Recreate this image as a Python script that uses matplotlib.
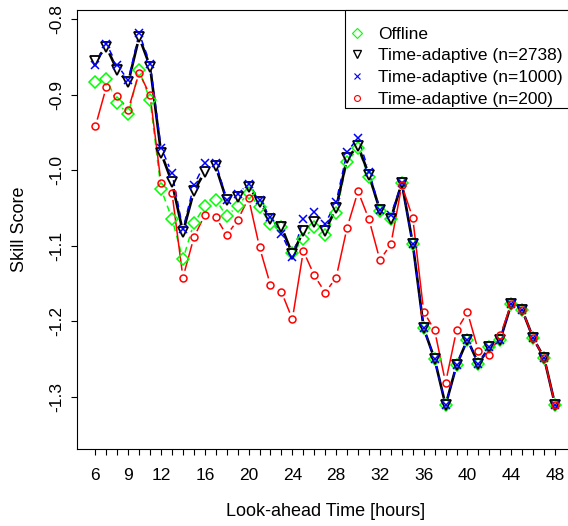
import numpy as np
import matplotlib
matplotlib.use("Agg")
import matplotlib.pyplot as plt
from matplotlib.lines import Line2D
from matplotlib.collections import LineCollection
from matplotlib.patches import Rectangle

plt.rcParams['font.family'] = ['Liberation Sans', 'DejaVu Sans']

# Look-ahead times (hours) and skill scores per forecasting setup
hours = list(range(6, 49))
xtick_labels = [6, 9, 12, 16, 20, 24, 28, 32, 36, 40, 44, 48]
yticks = [-0.8, -0.9, -1.0, -1.1, -1.2, -1.3]
ytick_labels = ["-0.8", "-0.9", "-1.0", "-1.1", "-1.2", "-1.3"]

offline = [-0.884, -0.879, -0.911, -0.926, -0.868, -0.907, -1.025, -1.064, -1.118,
           -1.070, -1.048, -1.039, -1.061, -1.047, -1.030, -1.049, -1.071, -1.075,
           -1.110, -1.091, -1.075, -1.086, -1.056, -0.989, -0.971, -1.009, -1.054,
           -1.064, -1.017, -1.097, -1.209, -1.250, -1.311, -1.258, -1.224, -1.256,
           -1.234, -1.224, -1.177, -1.185, -1.222, -1.248, -1.310]
adaptive_2738 = [-0.855, -0.837, -0.868, -0.884, -0.824, -0.863, -0.977, -1.016, -1.082,
                 -1.028, -1.002, -0.995, -1.040, -1.035, -1.022, -1.042, -1.064, -1.075,
                 -1.111, -1.081, -1.068, -1.080, -1.050, -0.984, -0.968, -1.006, -1.053,
                 -1.064, -1.017, -1.097, -1.209, -1.250, -1.311, -1.258, -1.224, -1.256,
                 -1.234, -1.224, -1.177, -1.185, -1.222, -1.248, -1.310]
adaptive_1000 = [-0.861, -0.833, -0.861, -0.881, -0.819, -0.859, -0.970, -1.004, -1.078,
                 -1.020, -0.991, -0.990, -1.039, -1.031, -1.018, -1.039, -1.062, -1.084,
                 -1.115, -1.064, -1.055, -1.071, -1.042, -0.976, -0.957, -1.002, -1.052,
                 -1.059, -1.017, -1.097, -1.209, -1.250, -1.311, -1.258, -1.224, -1.256,
                 -1.234, -1.224, -1.177, -1.185, -1.222, -1.248, -1.310]
adaptive_200 = [-0.942, -0.890, -0.902, -0.920, -0.871, -0.901, -1.017, -1.030, -1.142,
                -1.089, -1.059, -1.062, -1.086, -1.066, -1.037, -1.102, -1.152, -1.161,
                -1.197, -1.107, -1.139, -1.162, -1.142, -1.076, -1.028, -1.065, -1.119,
                -1.098, -1.020, -1.063, -1.187, -1.212, -1.281, -1.212, -1.188, -1.239,
                -1.244, -1.218, -1.177, -1.185, -1.222, -1.248, -1.310]

labels = ["Offline", "Time-adaptive (n=2738)", "Time-adaptive (n=1000)",
          "Time-adaptive (n=200)"]

W, H, DPI = 568, 526, 100
FS = 12.5
fig = plt.figure(figsize=(W / DPI, H / DPI), dpi=DPI)
fig.patch.set_facecolor("white")

# plot region: left 77px, top 10px, bottom 449px; right edge runs past the canvas
left, right, top, bottom = 77, 573.4, 10, 449
ax = fig.add_axes([left / W, (H - bottom) / H, (right - left) / W, (bottom - top) / H])
ax.set_xlim(4.32, 49.68)
ax.set_ylim(-1.3688, -0.7881)

for sp in ax.spines.values():
    sp.set_linewidth(0.8)
    sp.set_color("black")


def draw_segments(x, y, color, lw, ls, gap_px):
    """Connect points with segments that stop short of each marker."""
    pts = ax.transData.transform(np.column_stack([x, y]))
    inv = ax.transData.inverted()
    segs = []
    for p0, p1 in zip(pts[:-1], pts[1:]):
        d = p1 - p0
        L = np.hypot(*d)
        if L <= 2 * gap_px:
            continue
        u = d / L
        segs.append(inv.transform([p0 + u * gap_px, p1 - u * gap_px]))
    lc = LineCollection(segs, colors=color, linewidths=lw, linestyles=ls,
                        capstyle="butt")
    ax.add_collection(lc)


series = [
    (offline, "#00FF00", "D", 6.0, 1.1, (0, (4, 3)), 1.1),
    (adaptive_2738, "black", "v", 7.0, 1.9, "solid", 1.3),
    (adaptive_1000, "#0000FF", "x", 5.8, 1.1, (0, (4, 3)), 1.1),
    (adaptive_200, "#FF0000", "o", 5.0, 1.1, "solid", 1.1),
]

for vals, col, mk, ms, lw, ls, mew in series:
    draw_segments(hours, vals, col, lw, ls, gap_px=7.0)

handles = []
for (vals, col, mk, ms, lw, ls, mew), lab in zip(series, labels):
    ax.plot(hours, vals, linestyle="none", marker=mk, markersize=ms,
            markeredgecolor=col, markerfacecolor="none", markeredgewidth=mew,
            color=col, zorder=3)
    handles.append(Line2D([], [], linestyle="none", marker=mk, markersize=ms * 0.85,
                          markeredgecolor=col, markerfacecolor="none",
                          markeredgewidth=mew * 0.75, color=col))

ax.set_xticks(hours)
ax.set_xticklabels([str(h) if h in xtick_labels else "" for h in hours])
ax.set_yticks(yticks)
ax.set_yticklabels(ytick_labels, rotation=90, va="center")
ax.tick_params(axis="both", direction="out", length=4.5, width=0.8,
               labelsize=FS, colors="black")
ax.tick_params(axis="x", pad=9)
ax.tick_params(axis="y", pad=5)

ax.set_xlabel("Look-ahead Time [hours]", fontsize=13, va="center")
ax.xaxis.set_label_coords(0.5, (bottom - 512) / (bottom - top))
ax.set_ylabel("Skill Score", fontsize=13, va="center")
ax.yaxis.set_label_coords((19.5 - left) / (right - left), 0.5)

# legend entries without frame, plus a plain rectangular frame
leg_left, leg_top, leg_bottom = 345, 10, 108
leg = fig.legend(handles, labels, loc="upper left",
                 bbox_to_anchor=(348.3 / W, (H - 26.5) / H),
                 bbox_transform=fig.transFigure, frameon=False,
                 borderaxespad=0, borderpad=0, fontsize=FS,
                 handlelength=1.0, handletextpad=0.7, labelspacing=0.38)
frame = Rectangle((leg_left / W, (H - leg_bottom) / H),
                  (right - leg_left) / W, (leg_bottom - leg_top) / H,
                  transform=fig.transFigure, facecolor="white", edgecolor="black",
                  linewidth=0.8, zorder=4)
fig.add_artist(frame)
leg.set_zorder(5)

fig.savefig("out.png", dpi=DPI)
